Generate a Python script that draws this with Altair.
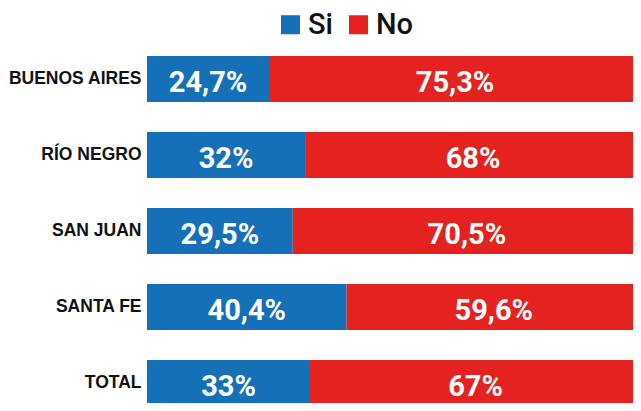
import altair as alt
import pandas as pd

provincias = ["BUENOS AIRES", "RÍO NEGRO", "SAN JUAN", "SANTA FE", "TOTAL"]
si = [24.7, 32, 29.5, 40.4, 33]
no = [75.3, 68, 70.5, 59.6, 67]
respuestas = ["Si", "No"]
colores = ["#1570b8", "#e42320"]

rows = []
for p, s, n in zip(provincias, si, no):
    rows.append({"prov": p, "resp": "Si", "v": s, "ord": 0})
    rows.append({"prov": p, "resp": "No", "v": n, "ord": 1})
df = pd.DataFrame(rows)

VFONT = "Roboto, Liberation Sans, sans-serif"

base = alt.Chart(df).transform_stack(
    stack="v", groupby=["prov"], as_=["x0", "x1"],
    sort=[alt.SortField("ord", order="ascending")]
).transform_calculate(
    mid="(datum.x0 + datum.x1) / 2",
    lab="replace(toString(datum.v), '.', ',') + '%'"
)

# the bars run past the right and bottom edges of the picture, as in the reference
xscale = alt.Scale(domain=[0, 100], nice=False, zero=True, range=[0, 494])
yenc = alt.Y(
    "prov:N", sort=provincias,
    scale=alt.Scale(paddingInner=0.395, paddingOuter=0, range=[0, 350]),
    axis=alt.Axis(title=None, ticks=False, domain=False, labelPadding=6,
                  labelFont="Liberation Sans, Arial, sans-serif", labelFontSize=17.5,
                  labelFontWeight="bold", labelColor="#111111", grid=False)
)

bars = base.mark_bar(stroke=None).encode(
    x=alt.X("x0:Q", scale=xscale, axis=None),
    x2="x1:Q",
    y=yenc,
    color=alt.Color(
        "resp:N",
        scale=alt.Scale(domain=respuestas, range=colores),
        legend=alt.Legend(
            title=None, orient="none", legendX=129, legendY=-46,
            direction="horizontal", symbolType="square", symbolSize=361,
            symbolStrokeWidth=0, symbolOpacity=1, labelFont=VFONT,
            labelFontSize=29, labelFontWeight=500, labelColor="#111111",
            labelOffset=3, columnPadding=11, padding=0
        )
    )
)

text = base.mark_text(
    font=VFONT, fontSize=29, fontWeight="bold", color="white",
    align="center", baseline="middle", dy=4
).encode(
    x=alt.X("mid:Q", scale=xscale, axis=None),
    y=alt.Y("prov:N", sort=provincias),
    text="lab:N"
)

chart = (bars + text).properties(
    width=486, height=347,
    padding={"left": 139, "top": 48, "right": 0, "bottom": 0},
    autosize="none"
).configure_view(stroke=None)

chart.save("out.html", embed_options={"renderer": "svg", "actions": False})
